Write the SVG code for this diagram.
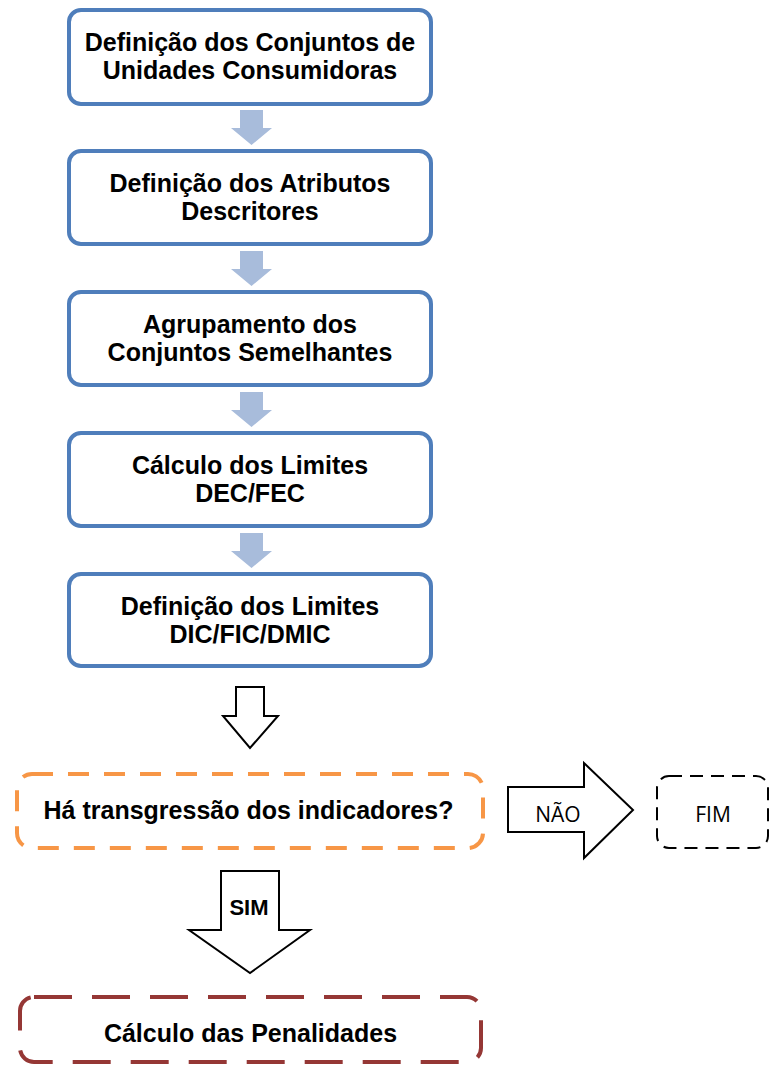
<svg xmlns="http://www.w3.org/2000/svg" width="770" height="1065" viewBox="0 0 770 1065">
<style>
.box{fill:#fff;stroke:#4F7EBB;stroke-width:4}
.t{font-family:"Liberation Sans",Arial,sans-serif;font-weight:bold;font-size:25px;fill:#000;text-anchor:middle}
.n{font-family:"Open Sans","Noto Sans",sans-serif;font-size:21px;fill:#000;text-anchor:middle}
.la{fill:#A8BCDB}
.oa{fill:#fff;stroke:#000;stroke-width:2;stroke-linejoin:miter}
</style>
<rect width="770" height="1065" fill="#fff"/>
<g id="connectors">
<polygon class="la" points="240,110 263,110 263,128 272,128 251.5,145 231,128 240,128"/>
<polygon class="la" points="240,251 263,251 263,269 272,269 251.5,286 231,269 240,269"/>
<polygon class="la" points="240,392 263,392 263,410 272,410 251.5,427 231,410 240,410"/>
<polygon class="la" points="240,533 263,533 263,551 272,551 251.5,568 231,551 240,551"/>
<polygon class="oa" points="236,687 264,687 264,716 278,716 250,748 223,716 236,716"/>
<g id="nao">
<polygon class="oa" points="508,787 584,787 584,763 633,810 584,858 584,832 508,832"/>
<text class="n" x="558" y="822">NÃO</text>
</g>
<g id="sim">
<polygon class="oa" points="221,871 279,871 279,930 310,930 250,973 189,930 221,930"/>
<text class="t" x="249" y="915" style="font-size:22px">SIM</text>
</g>
</g>
<g id="n1"><rect class="box" x="69" y="10" width="362" height="94" rx="12"/>
<text class="t" x="250" y="51">Definição dos Conjuntos de</text><text class="t" x="250" y="79">Unidades Consumidoras</text></g>
<g id="n2"><rect class="box" x="69" y="151" width="362" height="93" rx="12"/>
<text class="t" x="250" y="192">Definição dos Atributos</text><text class="t" x="250" y="220">Descritores</text></g>
<g id="n3"><rect class="box" x="69" y="292" width="362" height="93" rx="12"/>
<text class="t" x="250" y="333">Agrupamento dos</text><text class="t" x="250" y="361">Conjuntos Semelhantes</text></g>
<g id="n4"><rect class="box" x="69" y="433" width="362" height="93" rx="12"/>
<text class="t" x="250" y="474">Cálculo dos Limites</text><text class="t" x="250" y="502">DEC/FEC</text></g>
<g id="n5"><rect class="box" x="69" y="574" width="362" height="92" rx="12"/>
<text class="t" x="250" y="615">Definição dos Limites</text><text class="t" x="250" y="643">DIC/FIC/DMIC</text></g>
<g id="decision"><rect x="17" y="774" width="466" height="74" rx="15" fill="#fff" stroke="#F79646" stroke-width="4" stroke-dasharray="21 15"/>
<text class="t" x="248.5" y="819">Há transgressão dos indicadores?</text></g>
<g id="fim"><rect x="657" y="776" width="111" height="72" rx="12" fill="#fff" stroke="#000" stroke-width="2" stroke-dasharray="13 8"/>
<text class="n" x="713" y="822">FIM</text></g>
<g id="penal"><rect x="20" y="997" width="461" height="65" rx="14" fill="#fff" stroke="#953735" stroke-width="4" stroke-dasharray="38 20"/>
<text class="t" x="250.5" y="1042">Cálculo das Penalidades</text></g>
</svg>
